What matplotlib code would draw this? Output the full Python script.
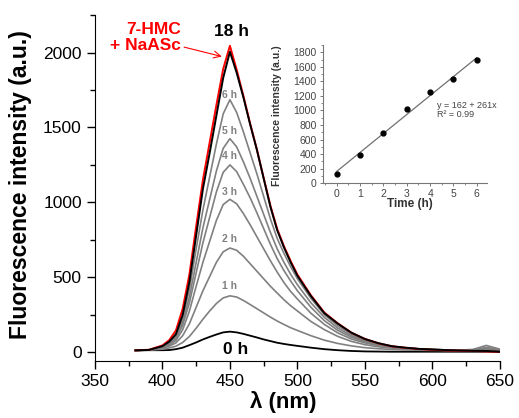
import numpy as np
import matplotlib
matplotlib.use("Agg")
import matplotlib.pyplot as plt
from matplotlib.ticker import MultipleLocator

plt.rcParams['font.family'] = ['Liberation Sans', 'DejaVu Sans']

# Comprimentos de onda (nm)
wl = [380, 390, 400, 405, 410, 415, 420, 425, 430, 435, 440, 445, 450, 455, 460, 465,
      470, 475, 480, 485, 490, 495, 500, 510, 520, 530, 540, 550, 560, 570, 580, 590,
      600, 610, 620, 630, 640, 650]

# Espectros (u.a.)
ref_hmc = [12, 16, 45, 80, 145, 290, 520, 840, 1150, 1400, 1650, 1890, 2045, 1885, 1710, 1525,
           1352, 1163, 978, 823, 708, 608, 518, 380, 264, 192, 130, 88, 59, 39, 29, 21,
           16, 12, 10, 8, 5, 2]
h18 = [12, 15, 40, 70, 120, 250, 470, 780, 1090, 1330, 1580, 1830, 2005, 1865, 1700, 1520,
       1350, 1160, 970, 815, 700, 600, 510, 375, 260, 190, 130, 88, 60, 40, 30, 22,
       18, 14, 11, 9, 8, 3]
h6 = [12, 15, 38, 65, 110, 225, 420, 690, 950, 1170, 1390, 1590, 1685, 1600, 1470, 1330,
      1190, 1040, 890, 760, 660, 570, 490, 360, 250, 175, 120, 82, 55, 38, 28, 22,
      18, 15, 14, 12, 16, 8]
h5 = [12, 15, 36, 60, 100, 200, 370, 600, 830, 1020, 1210, 1360, 1425, 1370, 1270, 1160,
      1040, 920, 800, 690, 600, 520, 450, 330, 232, 160, 110, 75, 52, 36, 27, 22,
      18, 15, 14, 18, 45, 20]
h4 = [12, 15, 34, 55, 90, 180, 330, 530, 730, 900, 1070, 1200, 1250, 1205, 1120, 1030,
      930, 825, 720, 625, 545, 475, 410, 300, 210, 145, 100, 70, 48, 34, 26, 20,
      17, 14, 13, 15, 28, 12]
h3 = [12, 14, 30, 48, 78, 150, 275, 440, 600, 740, 880, 985, 1020, 990, 925, 850,
      770, 690, 610, 535, 465, 405, 355, 260, 185, 128, 88, 62, 44, 32, 25, 20,
      16, 14, 12, 14, 32, 15]
h2 = [12, 14, 26, 40, 62, 110, 190, 300, 410, 505, 600, 670, 695, 680, 640, 590,
      540, 490, 440, 395, 350, 310, 275, 205, 150, 105, 72, 50, 36, 27, 22, 18,
      15, 13, 12, 12, 20, 10]
h1 = [12, 14, 20, 28, 40, 65, 105, 160, 220, 275, 325, 362, 376, 368, 345, 318,
      290, 262, 234, 208, 185, 163, 145, 110, 80, 58, 42, 30, 23, 18, 15, 13,
      12, 11, 10, 10, 12, 8]
h0 = [12, 13, 13, 14, 20, 30, 47, 65, 85, 102, 118, 132, 137, 132, 122, 110,
      98, 85, 74, 63, 55, 48, 42, 30, 20, 13, 8, 5, 4, 3, 3, 3,
      3, 3, 3, 3, 3, 3]

grey_curves = [h1, h2, h3, h4, h5, h6]
grey_labels = ["1 h", "2 h", "3 h", "4 h", "5 h", "6 h"]
grey_label_y = [441, 753, 1072, 1306, 1473, 1718]

# Dados do inset
t_h = [0, 1, 2, 3, 4, 5, 6]
inten = [131, 381, 691, 1025, 1257, 1438, 1692]
fit_a, fit_b = 162, 261

CINZA = "#808080"

fig = plt.figure(figsize=(5.19, 4.18), dpi=100)
ax = fig.add_axes([0.183, 0.136, 0.780, 0.828])

ax.plot(wl, h0, color="black", lw=1.3)
for c in grey_curves:
    ax.plot(wl, c, color=CINZA, lw=1.2)
ax.plot(wl, ref_hmc, color="red", lw=1.4)
ax.plot(wl, h18, color="black", lw=1.4)

for lab, yy in zip(grey_labels, grey_label_y):
    ax.text(449.5, yy, lab, color=CINZA, fontsize=7.5, fontweight="bold",
            ha="center", va="center")

ax.text(451.5, 2137, "18 h", fontsize=12.5, fontweight="bold", ha="center", va="center")
ax.text(454.5, 15, "0 h", fontsize=12.5, fontweight="bold", ha="center", va="center")
ax.annotate("7-HMC\n+ NaASc", xy=(444, 1973), xytext=(414, 2100),
            color="red", fontsize=12.5, fontweight="bold", ha="right", va="center",
            linespacing=1.1,
            arrowprops=dict(arrowstyle="->", color="red", lw=0.8, shrinkA=0, shrinkB=0))

ax.set_xlim(350, 650)
ax.set_ylim(-60, 2250)
ax.xaxis.set_major_locator(MultipleLocator(50))
ax.xaxis.set_minor_locator(MultipleLocator(25))
ax.yaxis.set_major_locator(MultipleLocator(500))
ax.yaxis.set_minor_locator(MultipleLocator(250))
ax.spines["top"].set_visible(False)
ax.spines["right"].set_visible(False)
ax.tick_params(which="major", direction="out", length=6, width=1, labelsize=12.5)
ax.tick_params(which="minor", direction="out", length=3.5, width=1)
ax.set_xlabel("λ (nm)", fontsize=16, fontweight="bold")
ax.set_ylabel("Fluorescence intensity (a.u.)", fontsize=16.5, fontweight="bold")
ax.xaxis.set_label_coords(0.464, -0.085)
ax.yaxis.set_label_coords(-0.155, 0.51)

# Inset
axi = fig.add_axes([0.622, 0.562, 0.316, 0.330])
axi.plot(t_h, [fit_a + fit_b * t for t in t_h], color="#707070", lw=0.9)
axi.plot(t_h, inten, "o", color="black", ms=3.5)
axi.set_xlim(-0.6, 6.43)
axi.set_ylim(0, 1900)
axi.xaxis.set_major_locator(MultipleLocator(1))
axi.xaxis.set_minor_locator(MultipleLocator(0.5))
axi.yaxis.set_major_locator(MultipleLocator(200))
axi.yaxis.set_minor_locator(MultipleLocator(100))
axi.spines["top"].set_visible(False)
axi.spines["right"].set_visible(False)
for s in ["left", "bottom"]:
    axi.spines[s].set_color("#777777")
    axi.spines[s].set_linewidth(0.8)
axi.tick_params(which="major", direction="out", length=2.5, width=0.7,
                color="#777777", labelsize=7.5, labelcolor="#444444", pad=2)
axi.tick_params(which="minor", direction="out", length=1.5, width=0.6, color="#777777")
axi.text(4.3, 1010, "y = 162 + 261x\nR² = 0.99", fontsize=6.5, color="#444444",
         va="center", ha="left", linespacing=0.95)
axi.set_xlabel("Time (h)", fontsize=8.5, fontweight="bold", color="#333333")
axi.set_ylabel("Fluorescence intensity (a.u.)", fontsize=7.5, fontweight="bold", color="#333333")
axi.xaxis.set_label_coords(0.53, -0.11)
axi.yaxis.set_label_coords(-0.25, 0.49)

fig.savefig("out.png", dpi=100)
